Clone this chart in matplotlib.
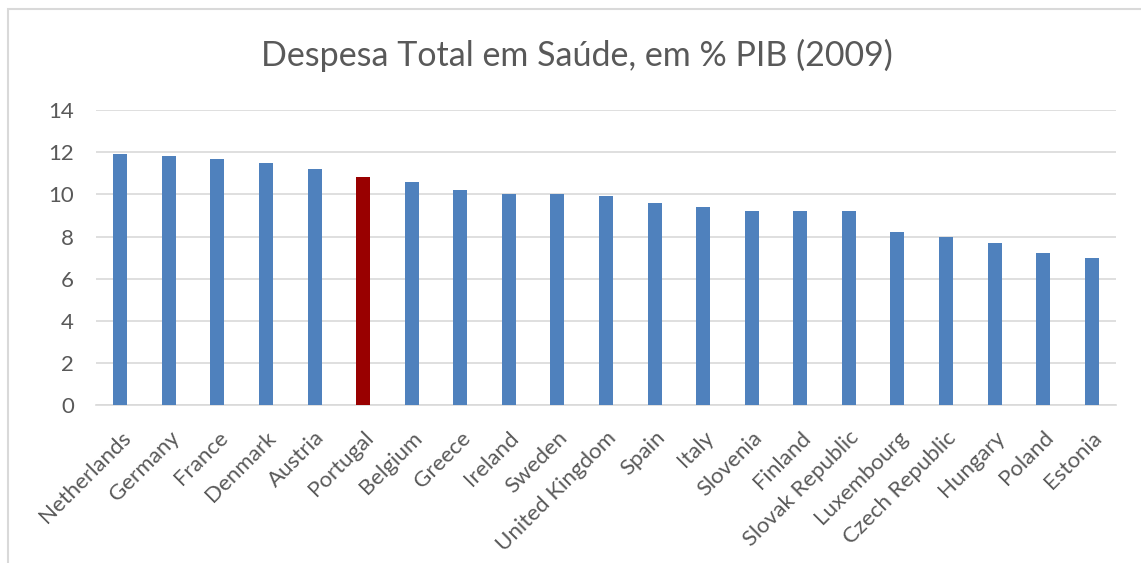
import matplotlib
matplotlib.use("Agg")
import matplotlib.pyplot as plt
from matplotlib.patches import Rectangle

# data
countries = ["Netherlands", "Germany", "France", "Denmark", "Austria", "Portugal",
             "Belgium", "Greece", "Ireland", "Sweden", "United Kingdom", "Spain",
             "Italy", "Slovenia", "Finland", "Slovak Republic", "Luxembourg",
             "Czech Republic", "Hungary", "Poland", "Estonia"]
spend = [11.9, 11.8, 11.7, 11.5, 11.2, 10.8, 10.6, 10.2, 10.0, 10.0, 9.9, 9.6,
         9.4, 9.2, 9.2, 9.2, 8.2, 8.0, 7.7, 7.2, 7.0]
highlight = "Portugal"
yticks = [0, 2, 4, 6, 8, 10, 12, 14]
title = "Despesa Total em Saúde, em % PIB (2009)"

plt.rcParams['font.family'] = ['Lato', 'DejaVu Sans']
txt = '#595959'

fig = plt.figure(figsize=(11.41, 5.63), dpi=100)
W, H = 1141, 563
ax = fig.add_axes([96 / W, 1 - 405.3 / H, (1116 - 96) / W, (405.3 - 110) / H])

colors = ['#990000' if c == highlight else '#4F81BD' for c in countries]
x = range(len(countries))
ax.bar(x, spend, width=0.29, color=colors, zorder=3)

ax.set_xlim(-0.5, len(countries) - 0.5)
ax.set_ylim(0, 14)
ax.set_yticks(yticks)
ax.yaxis.grid(True, color='#D9D9D9', linewidth=1.2, zorder=0)
for s in ['top', 'right', 'left']:
    ax.spines[s].set_visible(False)
ax.spines['bottom'].set_color('#D9D9D9')
ax.spines['bottom'].set_linewidth(1.2)
ax.tick_params(axis='both', length=0, colors=txt, labelsize=16)
ax.tick_params(axis='y', pad=16)
ax.set_xticks(list(x))
ax.set_xticklabels(countries, rotation=45, ha='right', rotation_mode='anchor')
ax.tick_params(axis='x', pad=16)

fig.text(577 / W, 1 - 55 / H, title, ha='center', va='center',
         fontsize=24.5, color=txt)

# chart border (top and left visible in reference)
fig.patches.append(Rectangle((8 / W, -0.1), 1.2, 1 - 9 / H + 0.1,
                             transform=fig.transFigure, fill=False,
                             edgecolor='#D9D9D9', linewidth=1.5))

fig.savefig('out.png', dpi=100)
